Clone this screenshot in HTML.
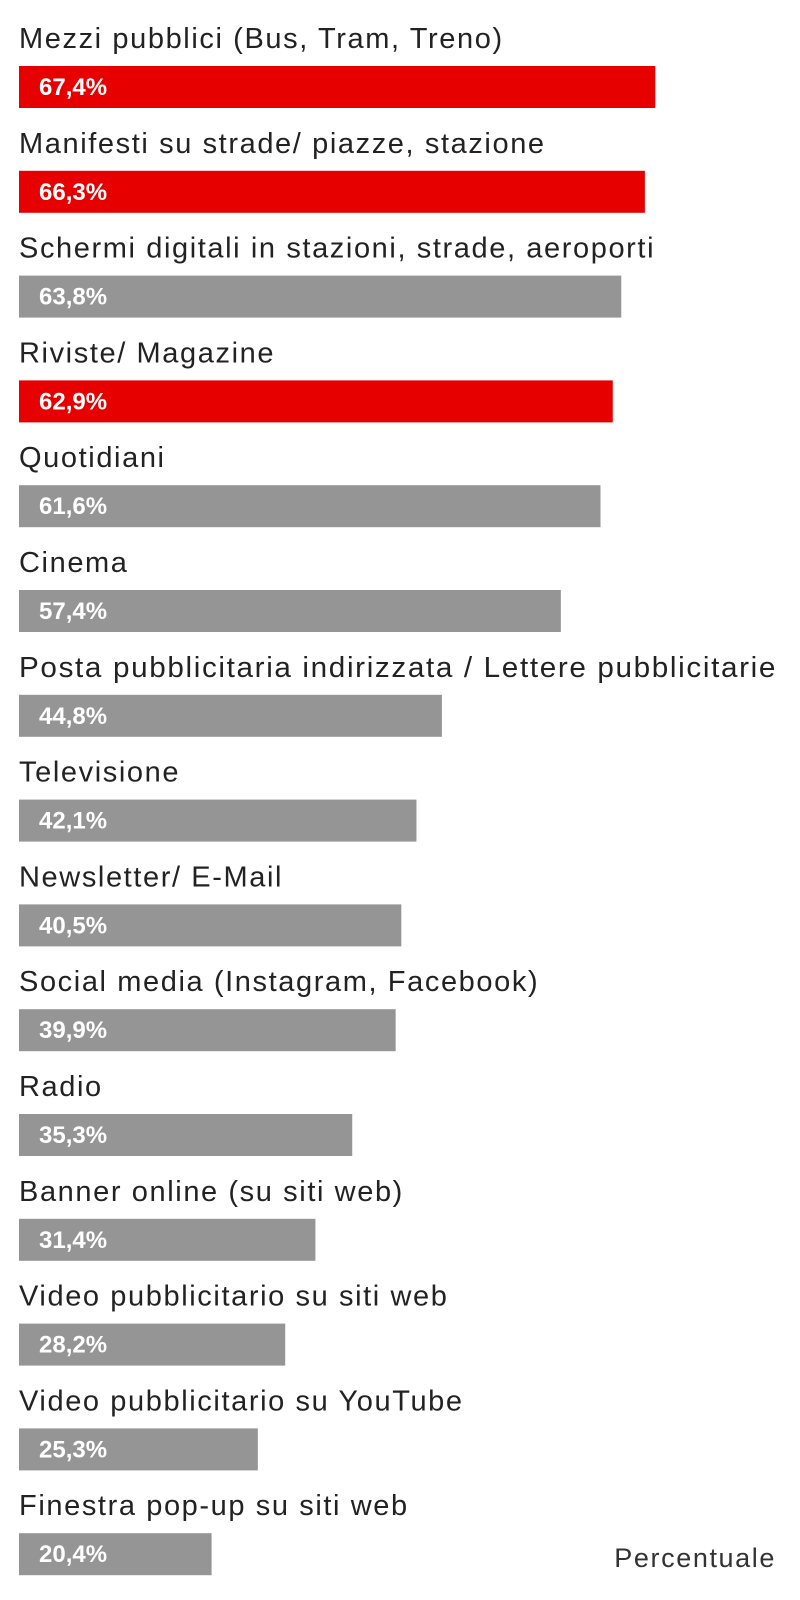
<!DOCTYPE html>
<html><head><meta charset="utf-8">
<style>
html,body{margin:0;padding:0;background:#fff;}
svg{display:block;font-family:"Liberation Sans",sans-serif;}
</style></head>
<body>
<svg id="chart" width="800" height="1600" viewBox="0 0 800 1600" xmlns="http://www.w3.org/2000/svg">
<text x="776" y="1567" text-anchor="end" font-size="27" letter-spacing="1.6" fill="#333">Percentuale</text>
</svg>
<script>
const categories = ["Mezzi pubblici (Bus, Tram, Treno)","Manifesti su strade/ piazze, stazione","Schermi digitali in stazioni, strade, aeroporti","Riviste/ Magazine","Quotidiani","Cinema","Posta pubblicitaria indirizzata / Lettere pubblicitarie","Televisione","Newsletter/ E-Mail","Social media (Instagram, Facebook)","Radio","Banner online (su siti web)","Video pubblicitario su siti web","Video pubblicitario su YouTube","Finestra pop-up su siti web"];
const values = [67.4,66.3,63.8,62.9,61.6,57.4,44.8,42.1,40.5,39.9,35.3,31.4,28.2,25.3,20.4];
const highlighted = [true,true,false,true,false,false,false,false,false,false,false,false,false,false,false];

const svg = document.getElementById('chart');
const NS = 'http://www.w3.org/2000/svg';
const x0 = 19, pxPerPct = 9.44;
function xScale(v){ return v * pxPerPct; }
function yScale(i){ return 66 + i * 104.8; }

categories.forEach((c, i) => {
  const top = yScale(i);
  const t = document.createElementNS(NS, 'text');
  
  
  t.setAttribute('x', x0);
  t.setAttribute('y', top - 18);
  t.setAttribute('font-size', '29');
  t.setAttribute('letter-spacing', '1.6');
  t.setAttribute('fill', '#222');
  t.textContent = c;
  if (c.length > 50) { t.setAttribute('textLength', 758); t.setAttribute('lengthAdjust', 'spacingAndGlyphs'); }
  svg.appendChild(t);
  const w = xScale(values[i]);
  const r = document.createElementNS(NS, 'rect');
  
  
  r.setAttribute('x', x0);
  r.setAttribute('y', top);
  r.setAttribute('width', w);
  r.setAttribute('height', 42);
  r.setAttribute('fill', highlighted[i] ? '#e60000' : '#959595');
  svg.appendChild(r);
  const v = document.createElementNS(NS, 'text');
  
  
  v.setAttribute('x', 39);
  v.setAttribute('y', top + 29);
  v.setAttribute('font-size', '24');
  v.setAttribute('font-weight', 'bold');
  v.setAttribute('fill', '#fff');
  v.textContent = values[i].toFixed(1).replace('.', ',') + '%';
  svg.appendChild(v);
});
</script>
</body></html>
